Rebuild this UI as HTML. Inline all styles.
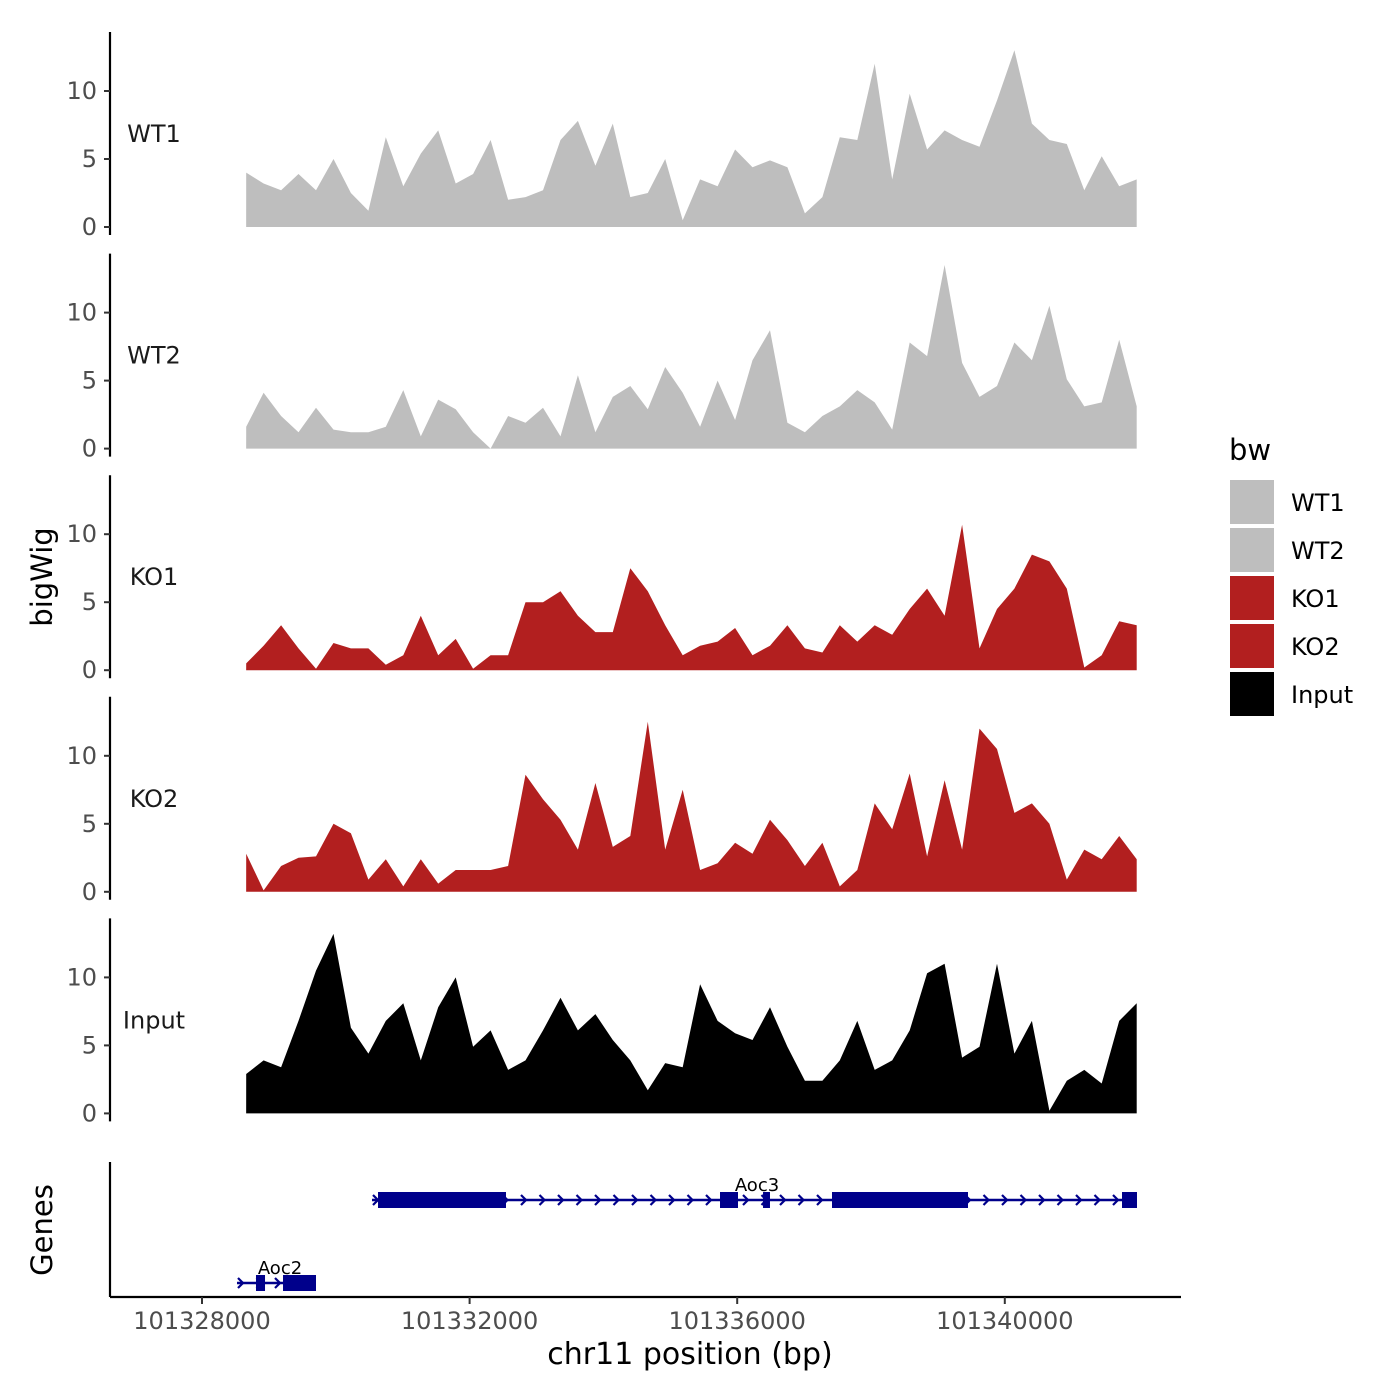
<!DOCTYPE html>
<html><head><meta charset="utf-8">
<style>
body{margin:0;background:#fff;}
svg{display:block;font-family:"DejaVu Sans","Liberation Sans",sans-serif;}
</style></head>
<body>
<svg id="chart" width="1400" height="1400" viewBox="0 0 1400 1400" xmlns="http://www.w3.org/2000/svg">
<rect width="1400" height="1400" fill="#fff"/>
<g id="panels"></g>
<g id="genes"></g>
<text x="0" y="0" transform="translate(52,577) rotate(-90)" font-size="29" text-anchor="middle" fill="#000">bigWig</text>
<text x="0" y="0" transform="translate(52,1230) rotate(-90)" font-size="29" text-anchor="middle" fill="#000">Genes</text>
<g id="xaxis"></g>
<text x="690" y="1364" font-size="30" text-anchor="middle" fill="#000">chr11 position (bp)</text>
<g id="legend"></g>
</svg>
<script>
// ---- data ----
const binStart = 101328660;
const binWidth = 261;
const trackNames = ["WT1","WT2","KO1","KO2","Input"];
const trackColors = ["#bebebe","#bebebe","#b21f1f","#b21f1f","#000000"];
const wt1 = [4.0,3.2,2.7,3.9,2.7,5.0,2.5,1.2,6.6,3.0,5.4,7.1,3.2,3.9,6.4,2.0,2.2,2.7,6.4,7.8,4.5,7.6,2.2,2.5,5.0,0.5,3.5,3.0,5.7,4.4,4.9,4.4,1.0,2.2,6.6,6.4,12.0,3.5,9.8,5.7,7.1,6.4,5.9,9.3,13.0,7.6,6.4,6.1,2.7,5.2,3.0,3.5];
const wt2 = [1.6,4.1,2.4,1.2,3.0,1.4,1.2,1.2,1.6,4.3,0.9,3.6,2.9,1.2,0.0,2.4,1.9,3.0,0.9,5.4,1.2,3.8,4.6,2.9,6.0,4.1,1.6,5.0,2.1,6.5,8.7,1.9,1.2,2.4,3.1,4.3,3.4,1.4,7.8,6.8,13.5,6.3,3.8,4.6,7.8,6.5,10.5,5.1,3.1,3.4,8.0,3.1];
const ko1 = [0.5,1.8,3.3,1.6,0.1,2.0,1.6,1.6,0.4,1.1,4.0,1.1,2.3,0.1,1.1,1.1,5.0,5.0,5.8,4.0,2.8,2.8,7.5,5.8,3.3,1.1,1.8,2.1,3.1,1.1,1.8,3.3,1.6,1.3,3.3,2.1,3.3,2.6,4.5,6.0,4.0,10.7,1.6,4.5,6.0,8.5,8.0,6.0,0.2,1.1,3.6,3.3];
const ko2 = [2.8,0.1,1.9,2.5,2.6,5.0,4.3,0.9,2.4,0.4,2.4,0.6,1.6,1.6,1.6,1.9,8.6,6.8,5.3,3.1,8.0,3.3,4.1,12.5,3.1,7.5,1.6,2.1,3.6,2.8,5.3,3.8,1.9,3.6,0.4,1.6,6.5,4.6,8.7,2.6,8.2,3.1,12.0,10.5,5.8,6.5,5.0,0.9,3.1,2.4,4.1,2.4];
const input = [2.9,3.9,3.4,6.8,10.5,13.2,6.3,4.4,6.8,8.1,3.9,7.8,10.0,4.9,6.1,3.2,3.9,6.1,8.5,6.1,7.3,5.4,3.9,1.7,3.7,3.4,9.5,6.8,5.9,5.4,7.8,4.9,2.4,2.4,3.9,6.8,3.2,3.9,6.1,10.3,11.0,4.1,4.9,11.0,4.4,6.8,0.2,2.4,3.2,2.2,6.8,8.1];
const yTicks = [0,5,10];
const xTicks = [101328000,101332000,101336000,101340000];
const xTickLabels = ["101328000","101332000","101336000","101340000"];
const geneNames = ["Aoc3","Aoc2"];
const geneStarts = [101330541,101328523];
const geneEnds = [101341976,101329704];
const exonGene = [0,0,0,0,0,1,1];
const exonStarts = [101330631,101335743,101336386,101337417,101341752,101328807,101329211];
const exonEnds = [101332544,101336012,101336490,101339450,101341976,101328942,101329704];

// ---- scales ----
const NS="http://www.w3.org/2000/svg";
const xScale = bp => 202 + (bp-101328000)*0.0669;
const panelTop0 = 32, panelStep = 221.6, zeroOff = 195, pxPerUnit = 13.6;
function mk(tag, attrs, parent){const e=document.createElementNS(NS,tag);for(const k in attrs)e.setAttribute(k,attrs[k]);parent.appendChild(e);return e;}

const series=[wt1,wt2,ko1,ko2,input];
const panels=document.getElementById('panels');
series.forEach((vals,t)=>{
  const top = panelTop0 + t*panelStep;
  const y0 = top + zeroOff;
  const yScale = v => y0 - v*pxPerUnit;
  const g = mk('g',{},panels);
  
  
  let d = 'M'+xScale(binStart)+','+y0;
  vals.forEach((v,i)=>{ d += ' L'+xScale(binStart+i*binWidth).toFixed(1)+','+yScale(v).toFixed(1); });
  d += ' L'+xScale(binStart+(vals.length-1)*binWidth).toFixed(1)+','+y0+' Z';
  const p = mk('path',{d:d,fill:trackColors[t]},g);
  
  
  const ax = mk('line',{x1:110,x2:110,y1:top,y2:top+203,stroke:'#000','stroke-width':2.2},g);
  
  
  yTicks.forEach(tv=>{
    const ty=yScale(tv);
    mk('line',{x1:104,x2:110,y1:ty,y2:ty,stroke:'#333','stroke-width':2},g);
    const tl = mk('text',{x:97,y:ty+8,'font-size':24,'text-anchor':'end',fill:'#4d4d4d'},g);
    tl.textContent=tv;
    
    
  });
  const lab = mk('text',{x:154,y:top+110,'font-size':24,'text-anchor':'middle',fill:'#1a1a1a'},g);
  lab.textContent = trackNames[t];
  
  
});

// ---- genes ----
const genes=document.getElementById('genes');
mk('line',{x1:110,x2:110,y1:1162,y2:1297,stroke:'#000','stroke-width':2.2},genes);
const geneY=[1200,1283];
const labelX=[757,280];
geneNames.forEach((name,gi)=>{
  const gy=geneY[gi];
  const g=mk('g',{},genes);
  
  
  const x1=xScale(geneStarts[gi]), x2=xScale(geneEnds[gi]);
  mk('line',{x1:x1,x2:x2,y1:gy,y2:gy,stroke:'#00008b','stroke-width':2.5},g);
  for(let x=x1+4;x<x2-4;x+=18.5){
    mk('path',{d:'M'+(x-3)+','+(gy-5)+' L'+(x+2)+','+gy+' L'+(x-3)+','+(gy+5),fill:'none',stroke:'#00008b','stroke-width':2.2},g);
  }
  exonGene.forEach((eg,ei)=>{
    if(eg!==gi)return;
    const ex=xScale(exonStarts[ei]), ew=xScale(exonEnds[ei])-ex;
    const r=mk('rect',{x:ex,y:gy-8,width:ew,height:16,fill:'#00008b'},g);
    
    
  });
  const t=mk('text',{x:labelX[gi],y:gy-9,'font-size':18,'text-anchor':'middle',fill:'#000'},g);
  t.textContent=name;
  
  
});

// ---- x axis ----
const xa=document.getElementById('xaxis');
mk('line',{x1:110,x2:1181,y1:1297,y2:1297,stroke:'#000','stroke-width':2.2},xa);
xTicks.forEach((bp,i)=>{
  const x=xScale(bp);
  mk('line',{x1:x,x2:x,y1:1297,y2:1304,stroke:'#333','stroke-width':2},xa);
  const t=mk('text',{x:x,y:1329,'font-size':24,'text-anchor':'middle',fill:'#4d4d4d'},xa);
  t.textContent=xTickLabels[i];
  
  
});

// ---- legend ----
const lg=document.getElementById('legend');
const lt=mk('text',{x:1229,y:460,'font-size':29,fill:'#000'},lg);
lt.textContent='bw';
trackNames.forEach((n,i)=>{
  const y=480+i*48;
  const r=mk('rect',{x:1230,y:y,width:44,height:44,fill:trackColors[i]},lg);
  
  
  const t=mk('text',{x:1291,y:y+31,'font-size':24,fill:'#000'},lg);
  t.textContent=n;
  
  
});
</script>
</body></html>
